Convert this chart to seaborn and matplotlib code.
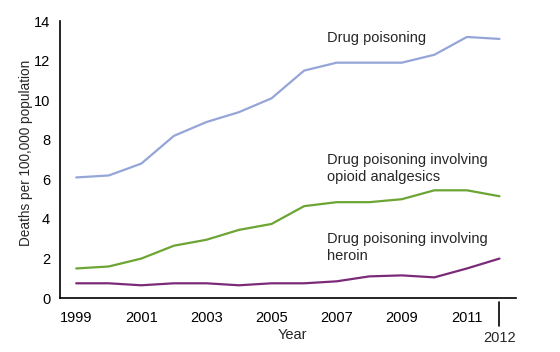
import matplotlib
matplotlib.use("Agg")
import matplotlib.pyplot as plt
import pandas as pd
import seaborn as sns

years = list(range(1999, 2013))
drug_poisoning = [6.1, 6.2, 6.8, 8.2, 8.9, 9.4, 10.1, 11.5, 11.9, 11.9, 11.9, 12.3, 13.2, 13.1]
opioid = [1.5, 1.6, 2.0, 2.65, 2.95, 3.45, 3.75, 4.65, 4.85, 4.85, 5.0, 5.45, 5.45, 5.15]
heroin = [0.75, 0.75, 0.65, 0.75, 0.75, 0.65, 0.75, 0.75, 0.85, 1.1, 1.15, 1.05, 1.5, 2.0]
series_names = ["Drug poisoning", "Drug poisoning involving\nopioid analgesics",
                "Drug poisoning involving\nheroin"]
x_ticks = [1999, 2001, 2003, 2005, 2007, 2009, 2011]
y_ticks = [0, 2, 4, 6, 8, 10, 12, 14]

sns.set_style("white")
plt.rcParams["font.family"] = ["Liberation Sans", "DejaVu Sans"]

data = pd.DataFrame({
    "Year": years * 3,
    "Rate": drug_poisoning + opioid + heroin,
    "Series": [series_names[0]] * 14 + [series_names[1]] * 14 + [series_names[2]] * 14,
})
colors = ["#95a5d8", "#6ca533", "#7b2a78"]

fig = plt.figure(figsize=(5.6, 3.52), dpi=100)
ax = fig.add_axes([0.107, 0.153, 0.814, 0.787])

sns.lineplot(data=data, x="Year", y="Rate", hue="Series", palette=colors,
             linewidth=1.6, legend=False, ax=ax)

ax.set_xlim(1998.5, 2012.5)
ax.set_ylim(0, 14)
ax.set_xticks(x_ticks + [2012])
ax.set_xticklabels([str(t) for t in x_ticks] + [""])
ax.set_yticks(y_ticks)
ax.tick_params(axis="both", direction="in", length=6, width=1, color="black",
               labelsize=10.5, labelcolor="black")
ax.tick_params(axis="x", pad=9)
ax.tick_params(axis="y", pad=7)

for side in ["top", "right"]:
    ax.spines[side].set_visible(False)
for side in ["left", "bottom"]:
    ax.spines[side].set_color("black")
    ax.spines[side].set_linewidth(1.2)

# 2012 marker below axis
ax.plot([2012, 2012], [-0.2, -1.4], color="black", linewidth=1.2, clip_on=False)
ax.text(2012, -2.0, "2012", ha="center", va="center", fontsize=10.5)

ax.set_xlabel("Year", fontsize=10.5)
ax.xaxis.set_label_coords(0.509, -0.108)
ax.set_ylabel("Deaths per 100,000 population", fontsize=9.8)
ax.yaxis.set_label_coords(-0.06, 0.525)

label_pos = [(2006.7, 13.15), (2006.7, 6.55), (2006.7, 2.55)]
for name, (lx, ly) in zip(series_names, label_pos):
    ax.text(lx, ly, name, ha="left", va="center", fontsize=10.5, linespacing=1.3)

fig.savefig("out.png", dpi=100)
